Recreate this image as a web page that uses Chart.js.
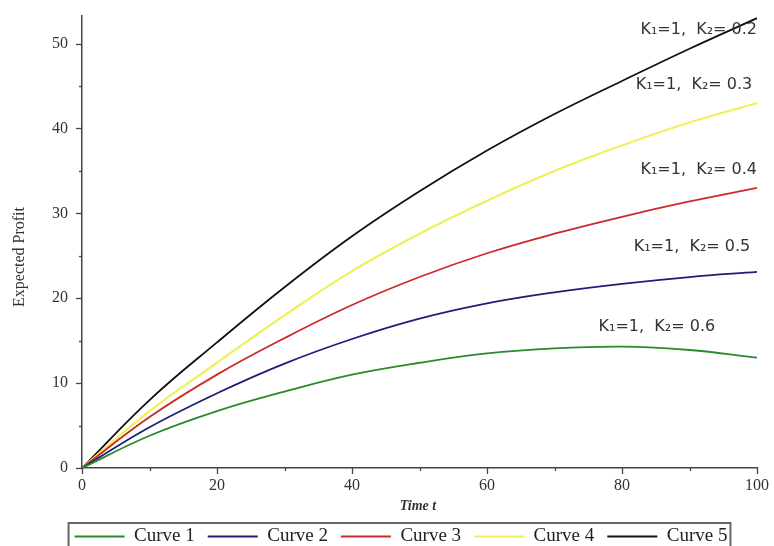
<!DOCTYPE html>
<html>
<head>
<meta charset="utf-8">
<script src="https://cdn.jsdelivr.net/npm/chart.js@4/dist/chart.umd.min.js"></script>
<style>
  html, body { margin: 0; padding: 0; background: #ffffff; }
  #wrap { width: 774px; height: 546px; position: relative; }
</style>
</head>
<body>
<div id="wrap"><canvas id="c" width="774" height="546"></canvas></div>
<script>
// ---- data ----
const times  = [0, 10, 20, 30, 40, 50, 60, 70, 80, 90, 100];
const curve1 = [0, 3.8, 6.7, 9.0, 11.0, 12.4, 13.5, 14.1, 14.3, 13.9, 13.0];
const curve2 = [0, 4.8, 8.8, 12.3, 15.2, 17.6, 19.4, 20.7, 21.7, 22.5, 23.1];
const curve3 = [0, 6.0, 11.0, 15.3, 19.2, 22.5, 25.3, 27.6, 29.6, 31.4, 33.0];
const curve4 = [0, 6.7, 12.4, 18.0, 23.2, 27.6, 31.5, 35.0, 38.0, 40.7, 43.0];
const curve5 = [0, 8.0, 14.8, 21.3, 27.3, 32.6, 37.4, 41.7, 45.6, 49.4, 53.0];
const seriesNames = ['Curve 1', 'Curve 2', 'Curve 3', 'Curve 4', 'Curve 5'];
const annoLabels = ['K\u2081=1,  K\u2082= 0.2', 'K\u2081=1,  K\u2082= 0.3', 'K\u2081=1,  K\u2082= 0.4', 'K\u2081=1,  K\u2082= 0.5', 'K\u2081=1,  K\u2082= 0.6'];
const xTickLabels = [0, 20, 40, 60, 80, 100];
const yTickLabels = [0, 10, 20, 30, 40, 50];
const xTitle = 'Time t';
const yTitle = 'Expected Profit';

const colors = ['#2b8a2b', '#1e1e7a', '#cc2a2a', '#f0f05a', '#111111'];
const allSeries = [curve1, curve2, curve3, curve4, curve5];

const datasets = allSeries.map((arr, i) => ({
  label: seriesNames[i],
  data: arr.map((v, k) => ({ x: times[k], y: v })),
  borderColor: colors[i],
  backgroundColor: colors[i],
  borderWidth: i === 3 ? 2.2 : 1.8,
  pointRadius: 0,
  tension: 0.4,
  fill: false
}));

const serif = '"Liberation Serif", "DejaVu Serif", serif';

const extras = {
  id: 'extras',
  afterDraw(chart) {
    const ctx = chart.ctx;
    const xs = chart.scales.x, ys = chart.scales.y;
    ctx.save();
    // tick marks
    ctx.strokeStyle = '#444';
    ctx.lineWidth = 1.3;
    ys.ticks.forEach(t => {
      const py = Math.round(ys.getPixelForValue(t.value)) + 0.5;
      const len = yTickLabels.includes(t.value) ? 6 : 3;
      ctx.beginPath(); ctx.moveTo(xs.left, py); ctx.lineTo(xs.left - len, py); ctx.stroke();
    });
    xs.ticks.forEach(t => {
      const px = Math.round(xs.getPixelForValue(t.value)) + 0.5;
      const len = xTickLabels.includes(t.value) ? 6 : 3;
      ctx.beginPath(); ctx.moveTo(px, ys.bottom); ctx.lineTo(px, ys.bottom + len); ctx.stroke();
    });
    // axis titles
    ctx.fillStyle = '#333';
    ctx.font = '16px ' + serif;
    ctx.textAlign = 'center'; ctx.textBaseline = 'middle';
    ctx.save();
    ctx.translate(20, 257);
    ctx.rotate(-Math.PI / 2);
    ctx.fillText(yTitle, 0, 0);
    ctx.restore();
    ctx.font = 'italic bold 14px ' + serif;
    ctx.fillText(xTitle, 418, 506);
    // curve annotations (right-aligned, anchored in data units)
    const anchors = [[100, 51.6], [99.3, 45.1], [100, 35.1], [99, 26.0], [93.8, 16.6]];
    ctx.font = '16px "DejaVu Sans", sans-serif';
    ctx.fillStyle = '#333';
    ctx.textAlign = 'right';
    annoLabels.forEach((txt, i) => {
      ctx.fillText(txt, xs.getPixelForValue(anchors[i][0]), ys.getPixelForValue(anchors[i][1]));
    });
    // legend frame
    const hb = chart.legend.legendHitBoxes;
    if (hb && hb.length) {
      const l = hb[0].left - 6;
      const r = hb[hb.length - 1].left + hb[hb.length - 1].width + 3;
      ctx.strokeStyle = '#666';
      ctx.lineWidth = 2;
      ctx.strokeRect(l, 523, r - l, 40);
    }
    ctx.restore();
  }
};

new Chart(document.getElementById('c'), {
  type: 'line',
  data: { datasets },
  options: {
    responsive: false,
    animation: false,
    layout: { padding: { top: 15, right: 17, left: 45, bottom: -10 } },
    plugins: {
      legend: {
        position: 'bottom',
        labels: {
          usePointStyle: true,
          pointStyle: 'line',
          pointStyleWidth: 50,
          padding: 13,
          color: '#222',
          font: { family: serif, size: 19 }
        }
      },
      tooltip: { enabled: false }
    },
    scales: {
      x: {
        type: 'linear',
        min: 0, max: 100,
        grid: { display: false },
        border: { display: true, color: '#444', width: 1.5 },
        ticks: {
          stepSize: 10,
          padding: 0,
          color: '#333',
          font: { family: serif, size: 16 },
          callback: v => xTickLabels.includes(v) ? String(v) : ''
        },
        afterFit: s => { s.height = 46; }
      },
      y: {
        type: 'linear',
        min: 0, max: 53.3,
        grid: { display: false },
        border: { display: true, color: '#444', width: 1.5 },
        ticks: {
          stepSize: 5,
          includeBounds: false,
          padding: 6,
          color: '#333',
          font: { family: serif, size: 16 },
          callback: v => yTickLabels.includes(v) ? String(v) : ''
        },
        afterFit: s => { s.width = 37; }
      }
    }
  },
  plugins: [extras]
});
</script>
</body>
</html>
